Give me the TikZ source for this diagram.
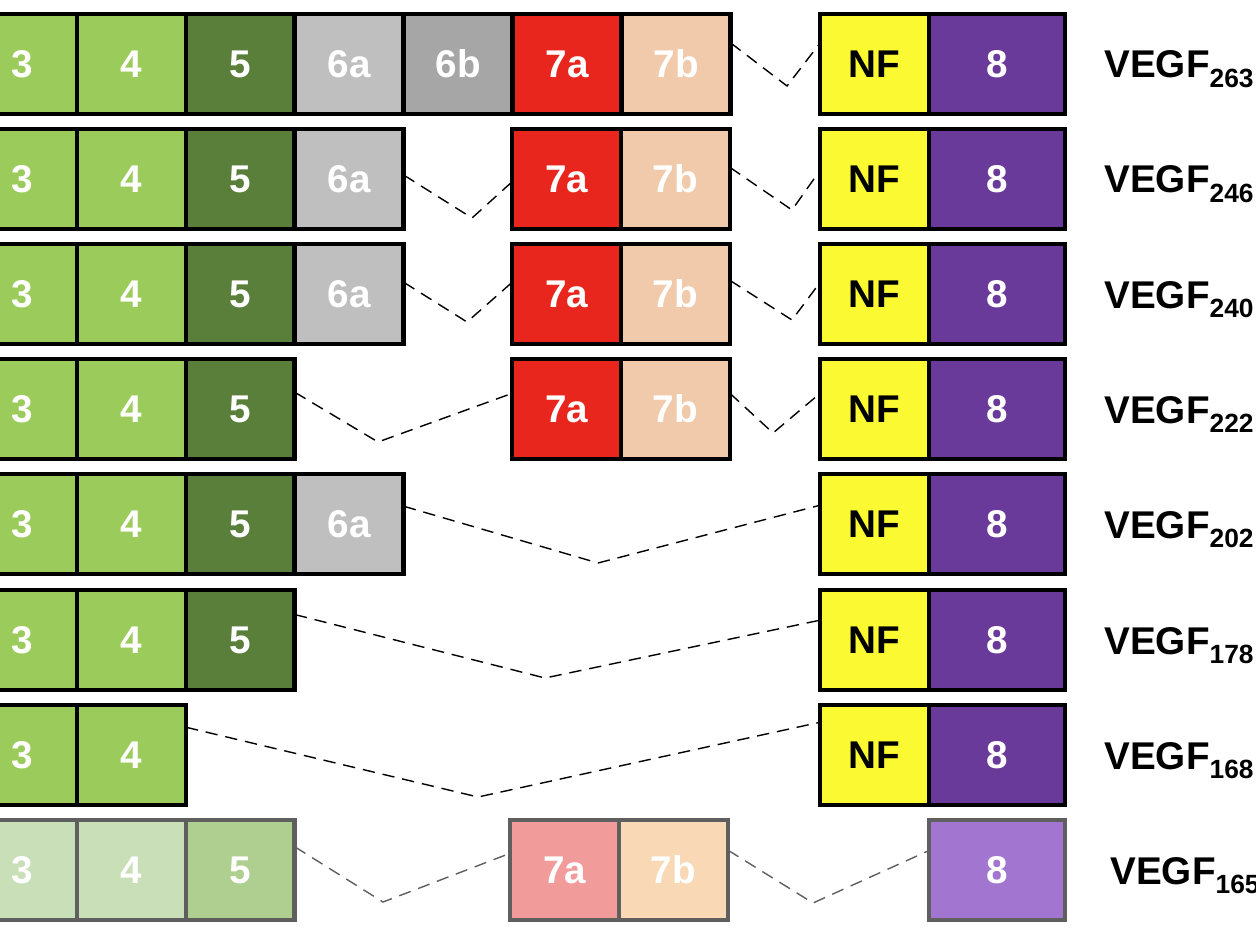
\documentclass[tikz,border=0pt]{standalone}
\usepackage{fontspec}
\setmainfont{Liberation Sans}
\usepackage{tikz}
\usetikzlibrary{positioning, calc}
\definecolor{exonlight}{HTML}{9BCB5A}
\definecolor{exondark}{HTML}{5A7F3A}
\definecolor{exongray}{HTML}{BFBFBF}
\definecolor{exongrey}{HTML}{A6A6A6}
\definecolor{exonred}{HTML}{E8261D}
\definecolor{exonpeach}{HTML}{F0CAAB}
\definecolor{exonyellow}{HTML}{FAF932}
\definecolor{exonpurple}{HTML}{6A3A9A}
\definecolor{fadelight}{HTML}{C9DFB8}
\definecolor{fadedark}{HTML}{AFCF90}
\definecolor{fadered}{HTML}{F19B9A}
\definecolor{fadepeach}{HTML}{F8D8B5}
\definecolor{fadepurple}{HTML}{A276D0}
\definecolor{fadeline}{HTML}{5F5F5F}
\newcommand{\vegf}[1]{VEGF\raisebox{-5.5pt}{\fontsize{15}{16}\selectfont #1}}

\begin{document}
\begin{tikzpicture}[
  x=0.02cm, y=-0.02cm,
  node distance=0pt,
  exon/.style={rectangle, draw=black, line width=2.8pt, minimum width=2.18cm, minimum height=2cm, inner sep=0pt, outer sep=0pt, text=white, font=\fontsize{22}{24}\selectfont\bfseries},
  wide/.style={exon, minimum width=2.72cm},
  faded/.style={exon, draw=fadeline},
  link/.style={dashed, line width=0.8pt, dash pattern=on 7pt off 4.5pt},
  isoform/.style={anchor=base west, inner sep=0pt, font=\fontsize{22}{24}\selectfont\bfseries}
]
  \useasboundingbox (0,0) rectangle (1256,942);
  \clip (0,0) rectangle (1256,942);

  % VEGF 263
  \node[exon, fill=exonlight] (a3) at (22.5,64) {3};
  \node[exon, fill=exonlight, right=of a3] (a4) {4};
  \node[exon, fill=exondark, right=of a4] (a5) {5};
  \node[exon, fill=exongray, right=of a5] (a6a) {6a};
  \node[exon, fill=exongrey, right=of a6a] (a6b) {6b};
  \node[exon, fill=exonred, right=of a6b] (a7a) {7a};
  \node[exon, fill=exonpeach, right=of a7a] (a7b) {7b};
  \node[exon, fill=exonyellow, text=black] (anf) at (874.5,64) {NF};
  \node[wide, fill=exonpurple, right=of anf] (a8) {8};
  \node[isoform] (alab) at (1104,78) {\vegf{263}};

  % VEGF 246
  \node[exon, fill=exonlight] (b3) at (22.5,179) {3};
  \node[exon, fill=exonlight, right=of b3] (b4) {4};
  \node[exon, fill=exondark, right=of b4] (b5) {5};
  \node[exon, fill=exongray, right=of b5] (b6a) {6a};
  \node[exon, fill=exonred] (b7a) at (566.5,179) {7a};
  \node[exon, fill=exonpeach, right=of b7a] (b7b) {7b};
  \node[exon, fill=exonyellow, text=black] (bnf) at (874.5,179) {NF};
  \node[wide, fill=exonpurple, right=of bnf] (b8) {8};
  \node[isoform] (blab) at (1104,193) {\vegf{246}};

  % VEGF 240
  \node[exon, fill=exonlight] (c3) at (22.5,294) {3};
  \node[exon, fill=exonlight, right=of c3] (c4) {4};
  \node[exon, fill=exondark, right=of c4] (c5) {5};
  \node[exon, fill=exongray, right=of c5] (c6a) {6a};
  \node[exon, fill=exonred] (c7a) at (566.5,294) {7a};
  \node[exon, fill=exonpeach, right=of c7a] (c7b) {7b};
  \node[exon, fill=exonyellow, text=black] (cnf) at (874.5,294) {NF};
  \node[wide, fill=exonpurple, right=of cnf] (c8) {8};
  \node[isoform] (clab) at (1104,308) {\vegf{240}};

  % VEGF 222
  \node[exon, fill=exonlight] (d3) at (22.5,409) {3};
  \node[exon, fill=exonlight, right=of d3] (d4) {4};
  \node[exon, fill=exondark, right=of d4] (d5) {5};
  \node[exon, fill=exonred] (d7a) at (566.5,409) {7a};
  \node[exon, fill=exonpeach, right=of d7a] (d7b) {7b};
  \node[exon, fill=exonyellow, text=black] (dnf) at (874.5,409) {NF};
  \node[wide, fill=exonpurple, right=of dnf] (d8) {8};
  \node[isoform] (dlab) at (1104,423) {\vegf{222}};

  % VEGF 202
  \node[exon, fill=exonlight] (e3) at (22.5,524) {3};
  \node[exon, fill=exonlight, right=of e3] (e4) {4};
  \node[exon, fill=exondark, right=of e4] (e5) {5};
  \node[exon, fill=exongray, right=of e5] (e6a) {6a};
  \node[exon, fill=exonyellow, text=black] (enf) at (874.5,524) {NF};
  \node[wide, fill=exonpurple, right=of enf] (e8) {8};
  \node[isoform] (elab) at (1104,538) {\vegf{202}};

  % VEGF 178
  \node[exon, fill=exonlight] (f3) at (22.5,640) {3};
  \node[exon, fill=exonlight, right=of f3] (f4) {4};
  \node[exon, fill=exondark, right=of f4] (f5) {5};
  \node[exon, fill=exonyellow, text=black] (fnf) at (874.5,640) {NF};
  \node[wide, fill=exonpurple, right=of fnf] (f8) {8};
  \node[isoform] (flab) at (1104,654) {\vegf{178}};

  % VEGF 168
  \node[exon, fill=exonlight] (g3) at (22.5,755) {3};
  \node[exon, fill=exonlight, right=of g3] (g4) {4};
  \node[exon, fill=exonyellow, text=black] (gnf) at (874.5,755) {NF};
  \node[wide, fill=exonpurple, right=of gnf] (g8) {8};
  \node[isoform] (glab) at (1104,769) {\vegf{168}};

  % VEGF 165
  \node[faded, fill=fadelight] (h3) at (22.5,870) {3};
  \node[faded, fill=fadelight, right=of h3] (h4) {4};
  \node[faded, fill=fadedark, right=of h4] (h5) {5};
  \node[faded, fill=fadered] (h7a) at (564.5,870) {7a};
  \node[faded, fill=fadepeach, right=of h7a] (h7b) {7b};
  \node[faded, fill=fadepurple, minimum width=2.72cm] (h8) at (997,870) {8};
  \node[isoform] (hlab) at (1110,884) {\vegf{165}};

  % splice links
  \draw[link] (a7b.21) -- (787,86) -- (anf.159);
  \draw[link] (b6a.4) -- (472,218) -- (b7a.183);
  \draw[link] (b7b.12) -- (792,210) -- (bnf.171);
  \draw[link] (c6a.12) -- (467,322) -- (c7a.168);
  \draw[link] (c7b.14) -- (792,320) -- (cnf.168);
  \draw[link] (d5.17) -- (378,442) -- (d7a.164);
  \draw[link] (d7b.16) -- (773,433) -- (dnf.164);
  \draw[link] (e6a.18) -- (598,563) -- (enf.161);
  \draw[link] (f5.25) -- (545,678) -- (fnf.160);
  \draw[link] (g4.27) -- (478,797) -- (gnf.149);
  \draw[link, draw=fadeline] (h5.23) -- (383,902) -- (h7a.163);
  \draw[link, draw=fadeline] (h7b.20) -- (813,903) -- (h8.164);
\end{tikzpicture}
\end{document}
